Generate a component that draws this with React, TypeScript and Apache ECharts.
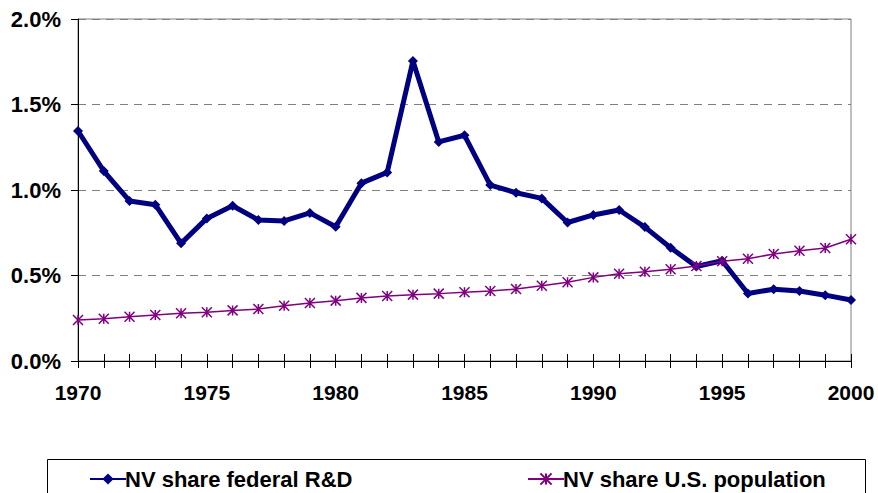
import React, { useEffect, useRef } from "react";
import * as echarts from "echarts";

const years: number[] = [
  1970, 1971, 1972, 1973, 1974, 1975, 1976, 1977, 1978, 1979, 1980,
  1981, 1982, 1983, 1984, 1985, 1986, 1987, 1988, 1989, 1990,
  1991, 1992, 1993, 1994, 1995, 1996, 1997, 1998, 1999, 2000,
];

const federalRD: number[] = [
  1.345, 1.111, 0.936, 0.914, 0.688, 0.834, 0.908, 0.825, 0.819, 0.866, 0.785,
  1.04, 1.103, 1.755, 1.281, 1.32, 1.029, 0.984, 0.951, 0.81, 0.854,
  0.883, 0.783, 0.662, 0.553, 0.586, 0.395, 0.42, 0.409, 0.385, 0.357,
];

const usPopulation: number[] = [
  0.24, 0.247, 0.259, 0.269, 0.279, 0.285, 0.296, 0.304, 0.323, 0.339, 0.353,
  0.369, 0.38, 0.388, 0.394, 0.402, 0.409, 0.421, 0.44, 0.46, 0.489,
  0.51, 0.522, 0.536, 0.556, 0.583, 0.598, 0.626, 0.645, 0.661, 0.712,
];

const seriesNames: string[] = ["NV share federal R&D", "NV share U.S. population"];

const FONT = "'Liberation Sans', Arial, sans-serif";
const ASTERISK = "path://M0,0L10,10M10,0L0,10M5,0L5,10";

const legendText = {
  color: "#000000",
  fontFamily: FONT,
  fontWeight: "bold",
  fontSize: 22,
  padding: [0, 0, 0, -6],
};

export default function App() {
  const ref = useRef<HTMLDivElement>(null);

  useEffect(() => {
    if (!ref.current) return;
    const chart = echarts.init(ref.current, undefined, { renderer: "svg" });
    const fedData = years.map((y, i) => [y, federalRD[i]]);
    const popData = years.map((y, i) => [y, usPopulation[i]]);

    chart.setOption({
      animation: false,
      backgroundColor: "#ffffff",
      grid: {
        left: 78,
        right: 27,
        top: 19,
        bottom: 132,
        show: true,
        borderColor: "#808080",
        borderWidth: 1,
        backgroundColor: "transparent",
      },
      xAxis: [
        {
          type: "value",
          min: 1970,
          max: 2000,
          interval: 1,
          axisLine: { show: true, lineStyle: { color: "#000000", width: 1 } },
          axisTick: { show: true, length: 7, lineStyle: { color: "#000000", width: 1 } },
          splitLine: { show: false },
          axisLabel: {
            margin: 21,
            color: "#000000",
            fontFamily: FONT,
            fontWeight: "bold",
            fontSize: 21,
            showMinLabel: true,
            showMaxLabel: true,
            formatter: (v: number) => (v % 5 === 0 ? String(v) : ""),
          },
        },
        {
          type: "value",
          position: "bottom",
          min: 1970,
          max: 2000,
          interval: 1,
          axisLine: { show: false },
          axisTick: { show: true, inside: true, length: 7, lineStyle: { color: "#000000", width: 1 } },
          splitLine: { show: false },
          axisLabel: { show: false },
        },
      ],
      yAxis: {
        type: "value",
        min: 0,
        max: 2,
        interval: 0.5,
        axisLine: { show: true, lineStyle: { color: "#000000", width: 1 } },
        axisTick: { show: true, length: 7, lineStyle: { color: "#000000", width: 1 } },
        splitLine: {
          show: true,
          lineStyle: { color: "#808080", width: 1, type: [8, 6] },
        },
        axisLabel: {
          margin: 17,
          color: "#000000",
          fontFamily: FONT,
          fontWeight: "bold",
          fontSize: 22,
          formatter: (v: number) => v.toFixed(1) + "%",
        },
      },
      legend: [
        {
          data: [seriesNames[0]],
          left: 84,
          top: 463,
          itemWidth: 36,
          itemHeight: 14,
          itemGap: 0,
          textStyle: legendText,
        },
        {
          data: [seriesNames[1]],
          left: 522,
          top: 463,
          itemWidth: 36,
          itemHeight: 14,
          itemGap: 0,
          textStyle: legendText,
        },
      ],
      graphic: [
        {
          type: "rect",
          shape: { x: 47.5, y: 459.5, width: 818, height: 60 },
          style: { fill: "transparent", stroke: "#000000", lineWidth: 1 },
          z: -1,
        },
      ],
      series: [
        {
          name: seriesNames[0],
          type: "line",
          data: fedData,
          xAxisIndex: 0,
          yAxisIndex: 0,
          symbol: "diamond",
          symbolSize: 10,
          showAllSymbol: true,
          lineStyle: { color: "#000080", width: 5 },
          itemStyle: { color: "#000080" },
          z: 3,
        },
        {
          name: seriesNames[1],
          type: "line",
          data: popData,
          xAxisIndex: 0,
          yAxisIndex: 0,
          symbol: ASTERISK,
          symbolSize: 10,
          showAllSymbol: true,
          lineStyle: { color: "#800080", width: 1.5 },
          itemStyle: { color: "#800080", borderColor: "#800080", borderWidth: 1.5 },
          z: 4,
        },
      ],
    });

    return () => chart.dispose();
  }, []);

  return (
    <div
      ref={ref}
      style={{ position: "fixed", left: 0, top: 0, width: 878, height: 493, background: "#ffffff" }}
    />
  );
}
